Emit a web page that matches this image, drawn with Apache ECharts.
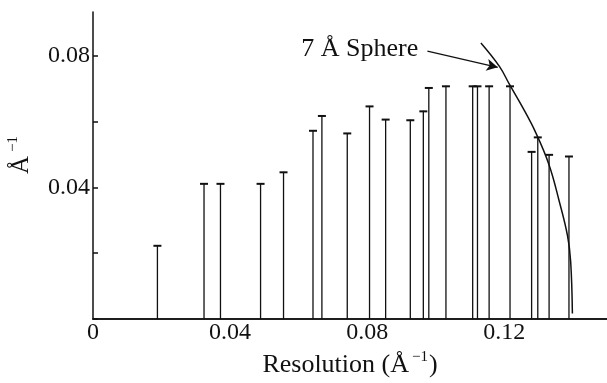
<!DOCTYPE html>
<html>
<head>
<meta charset="utf-8">
<script src="https://cdn.jsdelivr.net/npm/echarts@6/dist/echarts.min.js"></script>
<style>html,body{margin:0;padding:0;background:#fff}#c{width:607px;height:383px}</style>
</head>
<body>
<div id="c"></div>
<script>
// Bar positions (resolution, Å^-1) and heights (Å^-1)
const barX = [0.0188, 0.0324, 0.0372, 0.0489, 0.0556, 0.0642, 0.0668, 0.0742, 0.0807, 0.0854,
              0.0926, 0.0964, 0.0980, 0.1030, 0.1108, 0.1122, 0.1156, 0.1217, 0.1280, 0.1298,
              0.1331, 0.1389];
const barY = [0.0224, 0.0412, 0.0412, 0.0412, 0.0447, 0.0573, 0.0618, 0.0565, 0.0647, 0.0607,
              0.0605, 0.0632, 0.0703, 0.0708, 0.0708, 0.0708, 0.0708, 0.0708, 0.0509, 0.0553,
              0.0500, 0.0495];
// 7 Å sphere curve points
const sphereX = [0.1132, 0.1186, 0.1215, 0.1253, 0.1292, 0.1331, 0.1360, 0.1385, 0.1394, 0.1399];
const sphereY = [0.0838, 0.0767, 0.0713, 0.0644, 0.0566, 0.0468, 0.0360, 0.0252, 0.0174, 0.0017];
// annotation
const sphereLabel = '7 Å Sphere';
const labelAnchor = [0.0608, 0.0818];
const arrowFrom = [0.0976, 0.0813];
const arrowTo = [0.1181, 0.0764];
// tick labels
const xTickLabels = ['0', '0.04', '0.08', '0.12'];
const yTickLabels = ['0.04', '0.08'];

const font = '"Liberation Serif", "DejaVu Serif", serif';
const ink = '#111';

const chart = echarts.init(document.getElementById('c'), null, {renderer: 'canvas'});
const barData = barX.map((x, i) => [x, barY[i]]);
const sphereData = sphereX.map((x, i) => [x, sphereY[i]]);

function fmt(list) {
  return function (v) {
    for (const s of list) if (Math.abs(parseFloat(s) - v) < 1e-9) return s;
    return '';
  };
}

chart.setOption({
  animation: false,
  backgroundColor: '#fff',
  grid: {left: 93, right: 0, top: 12, bottom: 54},
  xAxis: [{
    type: 'value', min: 0, max: 0.15, interval: 0.04,
    axisLine: {show: true, onZero: false, lineStyle: {color: ink, width: 1.5}},
    axisTick: {show: false},
    splitLine: {show: false},
    axisLabel: {formatter: fmt(xTickLabels), showMaxLabel: false, color: ink, fontFamily: font, fontSize: 24, margin: 2},
    name: '{t|Resolution (Å}{s|−1}{t|)}',
    nameLocation: 'middle', nameGap: 30,
    nameTextStyle: {
      rich: {
        t: {fontFamily: font, fontSize: 26, color: ink, lineHeight: 28, verticalAlign: 'bottom'},
        s: {fontFamily: font, fontSize: 15, color: ink, lineHeight: 28, verticalAlign: 'top', padding: [0, 1, 0, 3]}
      }
    }
  }, {
    type: 'value', min: 0, max: 0.15, position: 'top',
    axisLine: {show: true, lineStyle: {color: ink, width: 1.5}},
    axisTick: {show: false}, axisLabel: {show: false}, splitLine: {show: false}
  }],
  yAxis: {
    type: 'value', min: 0, max: 0.0932, interval: 0.02,
    axisLine: {show: true, lineStyle: {color: ink, width: 1.5}},
    axisTick: {show: true, inside: true, length: 5, lineStyle: {color: ink, width: 1.5}},
    splitLine: {show: false},
    axisLabel: {formatter: fmt(yTickLabels), showMaxLabel: false, color: ink, fontFamily: font, fontSize: 24, margin: 3}
  },
  graphic: [{
    type: 'text', x: 20, y: 155, rotation: Math.PI / 2,
    style: {
      text: '{t|Å}{s|−1}', align: 'center', verticalAlign: 'middle',
      rich: {
        t: {fontFamily: font, fontSize: 25, fill: ink, lineHeight: 28, verticalAlign: 'bottom'},
        s: {fontFamily: font, fontSize: 15, fill: ink, lineHeight: 28, verticalAlign: 'top', padding: [0, 0, 0, 4]}
      }
    }
  }],
  series: [{
    type: 'custom',
    data: barData,
    encode: {x: 0, y: 1},
    clip: false,
    renderItem: function (params, api) {
      const x = api.value(0), y = api.value(1);
      const p0 = api.coord([x, 0]);
      const p1 = api.coord([x, y]);
      return {
        type: 'group',
        children: [{
          type: 'line',
          shape: {x1: p0[0], y1: p0[1], x2: p1[0], y2: p1[1]},
          style: {stroke: ink, lineWidth: 1.3}
        }, {
          type: 'line',
          shape: {x1: p1[0] - 4, y1: p1[1] + 0.5, x2: p1[0] + 4, y2: p1[1] + 0.5},
          style: {stroke: ink, lineWidth: 2}
        }]
      };
    }
  }, {
    type: 'line',
    data: sphereData,
    smooth: 0.4,
    symbol: 'none',
    lineStyle: {color: ink, width: 1.5},
    markLine: {
      silent: true,
      symbol: ['none', 'arrow'],
      symbolSize: [9, 11],
      label: {show: false},
      lineStyle: {color: ink, width: 1.3, type: 'solid'},
      data: [[{coord: arrowFrom}, {coord: arrowTo}]]
    }
  }, {
    type: 'scatter',
    data: [labelAnchor],
    symbolSize: 0,
    itemStyle: {opacity: 1, color: ink},
    label: {
      show: true, position: 'right', distance: 0,
      formatter: sphereLabel,
      fontFamily: font, fontSize: 26, color: ink, opacity: 1
    }
  }]
});
</script>
</body>
</html>
